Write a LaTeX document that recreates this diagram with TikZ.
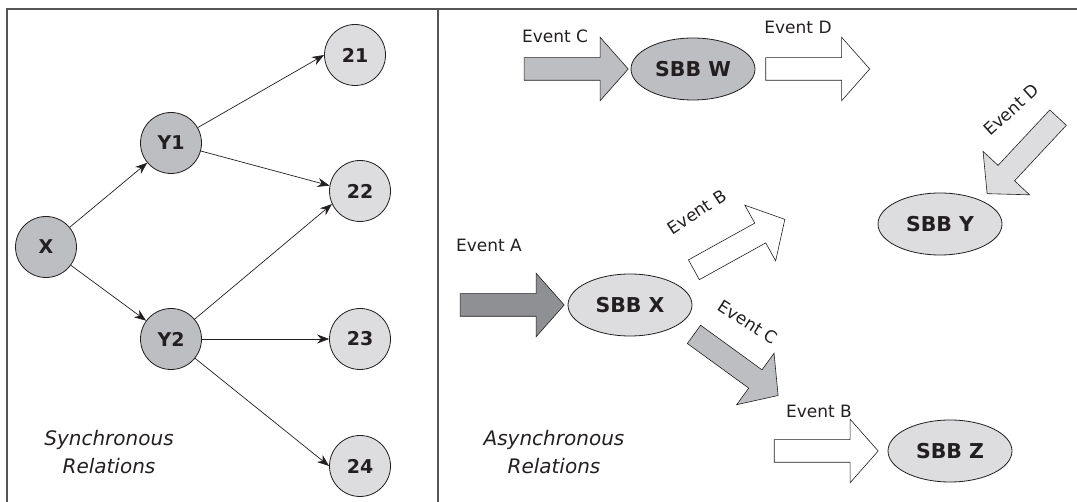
\documentclass[tikz,border=0pt]{standalone}
\usepackage{fontspec}
\setmainfont{DejaVu Sans}
\usetikzlibrary{positioning, shapes.geometric, shapes.arrows, arrows.meta}
\definecolor{ink}{RGB}{35,31,32}
\definecolor{rulegray}{RGB}{85,85,85}
\definecolor{darkfill}{RGB}{189,190,193}
\definecolor{lightfill}{RGB}{221,221,223}
\definecolor{deepfill}{RGB}{143,144,147}

\begin{document}
\begin{tikzpicture}[x=1pt,y=-1pt,>={Stealth[length=12pt,width=9pt]},
  num/.style={draw=ink, line width=0.8pt, circle, minimum size=61pt, inner sep=0pt, text=ink, font=\bfseries\fontsize{19}{19}\selectfont},
  sbb/.style={draw=ink, line width=0.8pt, ellipse, minimum width=124pt, minimum height=62pt, inner sep=0pt, fill=lightfill, text=ink, font=\bfseries\fontsize{20.5}{20.5}\selectfont},
  ev/.style={draw=ink, line width=0.6pt, single arrow, minimum height=104pt, inner xsep=0pt, inner ysep=11pt, single arrow head extend=20.5pt, single arrow tip angle=97},
  lbl/.style={inner sep=0pt, text=ink, font=\fontsize{17}{17}\selectfont},
  relcaption/.style={align=center, text=ink, font=\itshape\fontsize{20}{28}\selectfont}]
\useasboundingbox (0,0) rectangle (1077,502);
\draw[rulegray, line width=1.5pt] (7,502) |- (1077,9);
\draw[rulegray, line width=1.5pt] (438,9) -- (438,502);
% synchronous side
\node (x) [num, fill=darkfill] at (46,247) {X};
\node (y1) [num, fill=darkfill] at (171,143) {Y1};
\node (y2) [num, fill=darkfill] at (171,339) {Y2};
\node (n21) [num, fill=lightfill] at (355,55) {21};
\node (n22) [num, fill=lightfill] at (360,191) {22};
\node (n23) [num, fill=lightfill] at (360,339) {23};
\node (n24) [num, fill=lightfill] at (360,466) {24};
\draw [->, ink, line width=0.7pt] (x)--(y1);
\draw [->, ink, line width=0.7pt] (x)--(y2);
\draw [->, ink, line width=0.7pt] (y1)--(n21.west);
\draw [->, ink, line width=0.7pt] (y1)--(n22.170);
\draw [->, ink, line width=0.7pt] (y2)--(n22.205);
\draw [->, ink, line width=0.7pt] (y2)--(n23);
\draw [->, ink, line width=0.7pt] (y2)--(n24.west);
\node (sync) [relcaption] at (109,452) {Synchronous\\Relations};
% asynchronous side
\node (sbbw) [sbb, fill=darkfill] at (693,69) {SBB W};
\node (sbby) [sbb] at (940,224) {SBB Y};
\node (sbbx) [sbb] at (630,305) {SBB X};
\node (sbbz) [sbb] at (950,451) {SBB Z};
\node (evC) [ev, fill=darkfill, left=2pt of sbbw] {};
\node (evD) [ev, fill=white, right=10pt of sbbw] {};
\node (evA) [ev, fill=deepfill, left=3pt of sbbx] {};
\node (evB) [ev, fill=white, left=9pt of sbbz] {};
\node (evDy) [ev, fill=lightfill, rotate=227] at (1026,152) {};
\node (evBx) [ev, fill=white, rotate=29] at (735,247) {};
\node (evCx) [ev, fill=darkfill, rotate=-36] at (732,362) {};
\node (lC) [lbl] at (555,36) {Event C};
\node (lD) [lbl] at (798,27) {Event D};
\node (lA) [lbl] at (489,245) {Event A};
\node (lB) [lbl] at (819,411) {Event B};
\node (lDy) [lbl, rotate=42] at (1011,110) {Event D};
\node (lBx) [lbl, rotate=33] at (697,212) {Event B};
\node (lCx) [lbl, rotate=-33] at (748,322) {Event C};
\node (async) [relcaption] at (554,452) {Asynchronous\\Relations};
\end{tikzpicture}
\end{document}
